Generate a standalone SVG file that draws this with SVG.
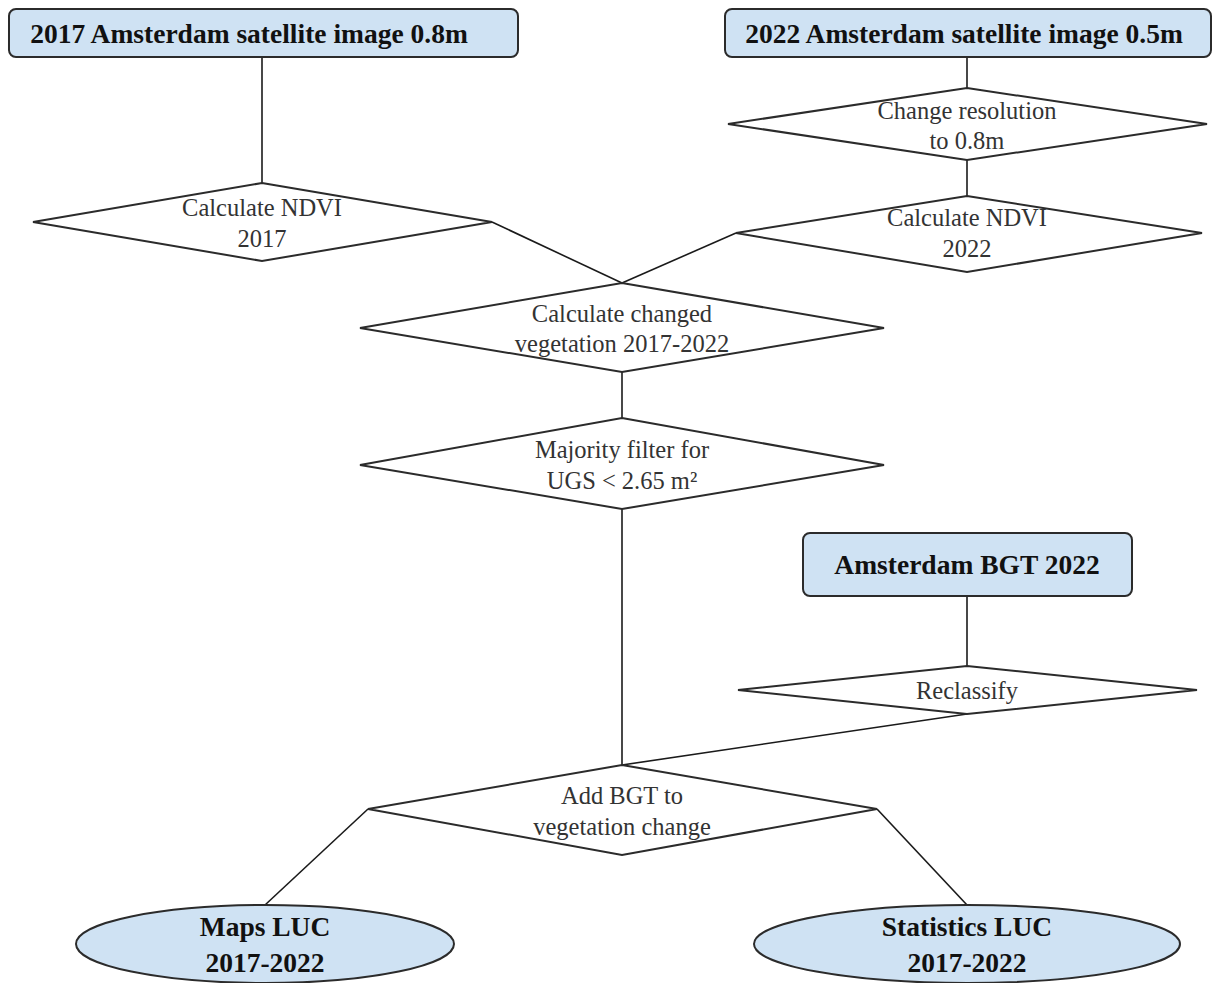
<svg xmlns="http://www.w3.org/2000/svg" width="1213" height="983" viewBox="0 0 1213 983">
<style>
.bg{fill:#ffffff}
.box{fill:#cfe2f3;stroke:#2b2b2b;stroke-width:2}
.dia{fill:#ffffff;stroke:#2b2b2b;stroke-width:2}
.ell{fill:#cfe2f3;stroke:#2b2b2b;stroke-width:2}
.con{stroke:#1a1a1a;stroke-width:1.6;fill:none}
.t{font-family:"Liberation Serif","Times New Roman",serif;font-size:24.5px;fill:#333333;text-anchor:middle}
.b{font-family:"Liberation Serif","Times New Roman",serif;font-size:27.5px;font-weight:bold;fill:#111111;text-anchor:middle}
</style>
<rect class="bg" x="0" y="0" width="1213" height="983"/>
<g id="connectors">
<line class="con" x1="262" y1="57" x2="262" y2="183"/>
<line class="con" x1="967" y1="57" x2="967" y2="88"/>
<line class="con" x1="967" y1="160" x2="967" y2="196"/>
<line class="con" x1="492" y1="222" x2="622" y2="283"/>
<line class="con" x1="736" y1="233" x2="622" y2="283"/>
<line class="con" x1="622" y1="372" x2="622" y2="418"/>
<line class="con" x1="622" y1="509" x2="622" y2="765"/>
<line class="con" x1="967" y1="596" x2="967" y2="666"/>
<line class="con" x1="967" y1="714" x2="622" y2="765"/>
<line class="con" x1="368" y1="809" x2="265" y2="905"/>
<line class="con" x1="877" y1="809" x2="967" y2="905"/>
</g>
<g id="n2017">
<rect class="box" x="9" y="9" width="509" height="48" rx="7"/>
<text class="b" x="249" y="43">2017 Amsterdam satellite image 0.8m</text>
</g>
<g id="n2022">
<rect class="box" x="725" y="9" width="486" height="48" rx="7"/>
<text class="b" x="964" y="43">2022 Amsterdam satellite image 0.5m</text>
</g>
<g id="nResample">
<polygon class="dia" points="967,88 1207,124 967,160 728,124"/>
<text class="t" x="967" y="119">Change resolution</text>
<text class="t" x="967" y="149">to 0.8m</text>
</g>
<g id="nNdvi2017">
<polygon class="dia" points="262,183 492,222 262,261 33,222"/>
<text class="t" x="262" y="216">Calculate NDVI</text>
<text class="t" x="262" y="247">2017</text>
</g>
<g id="nNdvi2022">
<polygon class="dia" points="967,196 1202,233 967,272 736,233"/>
<text class="t" x="967" y="226">Calculate NDVI</text>
<text class="t" x="967" y="257">2022</text>
</g>
<g id="nChange">
<polygon class="dia" points="622,283 884,328 622,372 360,328"/>
<text class="t" x="622" y="322">Calculate changed</text>
<text class="t" x="622" y="352">vegetation 2017-2022</text>
</g>
<g id="nMajority">
<polygon class="dia" points="622,418 884,465 622,509 360,465"/>
<text class="t" x="622" y="458">Majority filter for</text>
<text class="t" x="622" y="489">UGS &lt; 2.65 m²</text>
</g>
<g id="nBgt">
<rect class="box" x="803" y="533" width="329" height="63" rx="7"/>
<text class="b" x="967" y="574">Amsterdam BGT 2022</text>
</g>
<g id="nReclass">
<polygon class="dia" points="967,666 1197,690 967,714 738,690"/>
<text class="t" x="967" y="699">Reclassify</text>
</g>
<g id="nAdd">
<polygon class="dia" points="622,765 877,809 622,855 368,809"/>
<text class="t" x="622" y="804">Add BGT to</text>
<text class="t" x="622" y="835">vegetation change</text>
</g>
<g id="nMaps">
<ellipse class="ell" cx="265" cy="944" rx="189" ry="39"/>
<text class="b" x="265" y="936">Maps LUC</text>
<text class="b" x="265" y="972">2017-2022</text>
</g>
<g id="nStats">
<ellipse class="ell" cx="967" cy="944" rx="213" ry="39"/>
<text class="b" x="967" y="936">Statistics LUC</text>
<text class="b" x="967" y="972">2017-2022</text>
</g>
</svg>
